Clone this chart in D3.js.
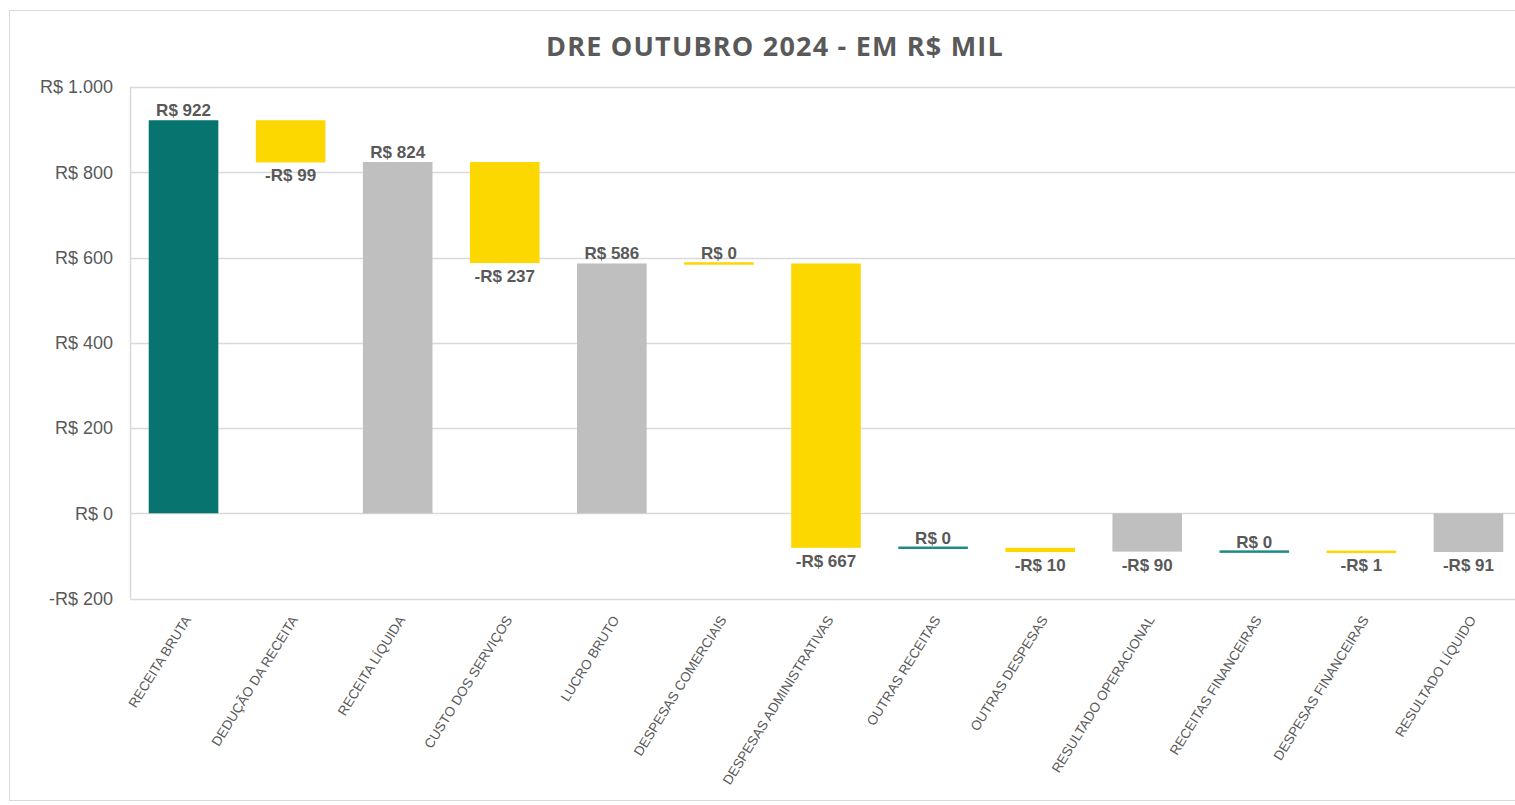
<!DOCTYPE html>
<html>
<head>
<meta charset="utf-8">
<script src="https://cdn.jsdelivr.net/npm/d3@7"></script>
<style>
  body { margin: 0; background: #fff; }
</style>
</head>
<body>
<div id="chart"></div>
<script>
const categories = [
  "RECEITA BRUTA", "DEDUÇÃO DA RECEITA", "RECEITA LÍQUIDA", "CUSTO DOS SERVIÇOS",
  "LUCRO BRUTO", "DESPESAS COMERCIAIS", "DESPESAS ADMINISTRATIVAS", "OUTRAS RECEITAS",
  "OUTRAS DESPESAS", "RESULTADO OPERACIONAL", "RECEITAS FINANCEIRAS", "DESPESAS FINANCEIRAS",
  "RESULTADO LÍQUIDO"
];
const values = [922, -99, 824, -237, 586, 0, -667, 0, -10, -90, 0, -1, -91];
// total = barra a partir do zero; receita/despesa = degrau do waterfall
const kinds = ["inicio", "despesa", "total", "despesa", "total", "despesa", "despesa",
               "receita", "despesa", "total", "receita", "despesa", "total"];
const yTicks = [-200, 0, 200, 400, 600, 800, 1000];

const COLORS = {
  inicio: "#077470",
  receita: "#1f8a86",
  despesa: "#FDD700",
  total: "#BFBFBF",
  grid: "#D9D9D9",
  text: "#595959"
};

const W = 1515, H = 805;
const margin = {top: 87, right: -7, bottom: 207, left: 130};

const svg = d3.select("#chart").append("svg")
  .attr("width", W)
  .attr("height", H);

svg.append("rect")
  .attr("x", 9.5).attr("y", 10.5)
  .attr("width", 1530).attr("height", 790)
  .attr("fill", "none")
  .attr("stroke", COLORS.grid);

svg.append("text")
  .attr("x", 775).attr("y", 56)
  .attr("text-anchor", "middle")
  .attr("fill", COLORS.text)
  .style("font-family", "'Open Sans', sans-serif")
  .style("font-weight", "bold")
  .style("font-size", "27px")
  .style("letter-spacing", "1.2px")
  .text("DRE OUTUBRO 2024 - EM R$ MIL");

// monta os degraus
let running = 0;
const data = categories.map((c, i) => {
  const v = values[i];
  let start, end;
  if (kinds[i] === "despesa" || kinds[i] === "receita") {
    start = running; end = running + v;
  } else {
    start = 0; end = v;
  }
  running = end;
  return {cat: c, value: v, kind: kinds[i], start, end};
});

const x = d3.scaleBand()
  .domain(categories)
  .range([margin.left, W - margin.right])
  .paddingInner(0.35)
  .paddingOuter(0.175);

const y = d3.scaleLinear()
  .domain([-200, 1000])
  .range([H - margin.bottom + 0.5, margin.top]);

const fmt = v => (v < 0 ? "-" : "") + "R$ " + d3.format(",")(Math.abs(v)).replace(/,/g, ".");

// grade
svg.append("g")
  .selectAll("line")
  .data(yTicks)
  .join("line")
  .attr("x1", margin.left)
  .attr("x2", W)
  .attr("y1", d => Math.round(y(d)) + 0.5)
  .attr("y2", d => Math.round(y(d)) + 0.5)
  .attr("stroke", COLORS.grid)
  .attr("stroke-width", 1.5);

svg.append("line")
  .attr("x1", margin.left + 0.5).attr("x2", margin.left + 0.5)
  .attr("y1", y(1000)).attr("y2", y(-200))
  .attr("stroke", COLORS.grid)
  .attr("stroke-width", 1.5);

svg.append("g")
  .selectAll("text")
  .data(yTicks)
  .join("text")
  .attr("x", 113)
  .attr("y", d => y(d))
  .attr("dy", "0.35em")
  .attr("text-anchor", "end")
  .attr("fill", COLORS.text)
  .style("font-family", "'Liberation Sans', Arial, sans-serif")
  .style("font-size", "18px")
  .text(fmt);

// barras
svg.append("g")
  .selectAll("rect")
  .data(data)
  .join("rect")
  .attr("x", d => x(d.cat))
  .attr("width", x.bandwidth())
  .attr("y", d => {
    const top = y(Math.max(d.start, d.end));
    const h = Math.abs(y(d.start) - y(d.end));
    return h < 2.5 ? top - 1.25 + h / 2 : top;
  })
  .attr("height", d => Math.max(2.5, Math.abs(y(d.start) - y(d.end))))
  .attr("fill", d => COLORS[d.kind]);

// rótulos de valor
svg.append("g")
  .selectAll("text")
  .data(data)
  .join("text")
  .attr("x", d => x(d.cat) + x.bandwidth() / 2)
  .attr("y", d => {
    if (d.value < 0) return y(Math.min(d.start, d.end)) + 13;
    return y(Math.max(d.start, d.end)) - 10;
  })
  .attr("dy", "0.35em")
  .attr("text-anchor", "middle")
  .attr("fill", COLORS.text)
  .style("font-family", "'Liberation Sans', Arial, sans-serif")
  .style("font-weight", "bold")
  .style("font-size", "17px")
  .text(d => fmt(d.value));

// categorias inclinadas
svg.append("g")
  .selectAll("text")
  .data(categories)
  .join("text")
  .attr("transform", d => `translate(${x(d) + x.bandwidth() / 2 + 8},${y(-200) + 21}) rotate(-58)`)
  .attr("text-anchor", "end")
  .attr("fill", COLORS.text)
  .style("font-family", "'Liberation Sans', Arial, sans-serif")
  .style("font-size", "13.5px")
  .text(d => d);
</script>
</body>
</html>
